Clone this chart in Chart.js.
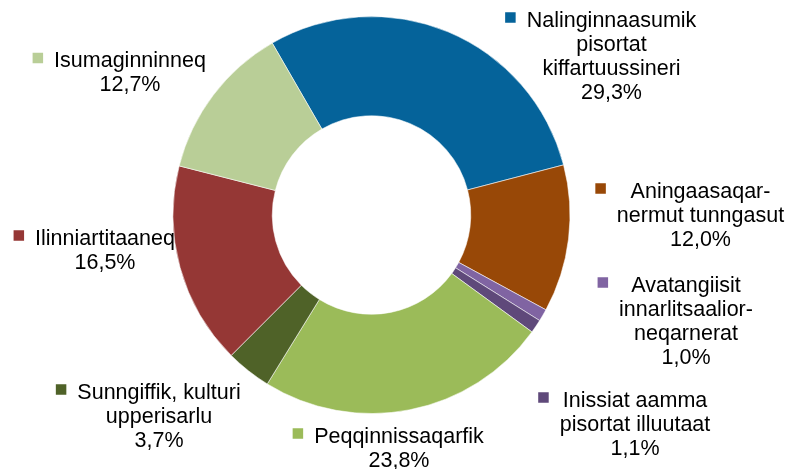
<!DOCTYPE html>
<html>
<head>
<meta charset="utf-8">
<script src="https://cdn.jsdelivr.net/npm/chart.js@4/dist/chart.umd.min.js"></script>
<style>
  html, body { margin: 0; padding: 0; background: #ffffff; }
  #wrap { width: 793px; height: 469px; }
</style>
</head>
<body>
<div id="wrap"><canvas id="c" width="793" height="469"></canvas></div>
<script>
// ---- data ----
const categories = [
  "Nalinginnaasumik pisortat kiffartuussineri",
  "Aningaasaqarnermut tunngasut",
  "Avatangiisit innarlitsaaliorneqarnerat",
  "Inissiat aamma pisortat illuutaat",
  "Peqqinnissaqarfik",
  "Sunngiffik, kulturi upperisarlu",
  "Ilinniartitaaneq",
  "Isumaginninneq"
];
const shares = [29.3, 12.0, 1.0, 1.1, 23.8, 3.7, 16.5, 12.7];
// label text lines as wrapped in the original (percentage line is added from shares)
const labelLines = [
  ["Nalinginnaasumik", "pisortat", "kiffartuussineri"],
  ["Aningaasaqar-", "nermut tunngasut"],
  ["Avatangiisit", "innarlitsaalior-", "neqarnerat"],
  ["Inissiat aamma", "pisortat illuutaat"],
  ["Peqqinnissaqarfik"],
  ["Sunngiffik, kulturi", "upperisarlu"],
  ["Ilinniartitaaneq"],
  ["Isumaginninneq"]
];

// ---- style / layout ----
const sliceColors = ["#05639A", "#984807", "#8064A2", "#5F497A", "#9BBB59", "#4F6228", "#953735", "#B9CE97"];
// label anchors: [center x of text block, baseline of first line]
const labelAnchors = [
  [611.5, 26.5], [700.5, 197.5], [686, 291.5], [635, 406.5],
  [399, 442.5], [159, 398.5], [105, 244.5], [130, 67]
];
const FONT_SIZE = 21.5;
const LINE_H = 24.3;

const labelPlugin = {
  id: 'outsideLabels',
  afterDatasetsDraw(chart) {
    const ctx = chart.ctx;
    const meta = chart.getDatasetMeta(0);
    ctx.save();
    ctx.font = FONT_SIZE + 'px "Liberation Sans", Arial, sans-serif';
    ctx.fillStyle = '#000000';
    ctx.textBaseline = 'alphabetic';
    ctx.textAlign = 'center';
    meta.data.forEach((arc, i) => {
      const lines = labelLines[i].concat([shares[i].toFixed(1).replace('.', ',') + '%']);
      const [cx, by] = labelAnchors[i];
      let maxW = 0;
      lines.forEach(l => { maxW = Math.max(maxW, ctx.measureText(l).width); });
      lines.forEach((l, k) => ctx.fillText(l, cx, by + k * LINE_H));
      // legend key square
      const sq = 10.5;
      const sx = cx - maxW / 2 - 11 - sq;
      const sy = by - 9 - sq / 2;
      ctx.fillStyle = sliceColors[i];
      ctx.fillRect(sx, sy, sq, sq);
      ctx.fillStyle = '#000000';
    });
    ctx.restore();
  }
};

new Chart(document.getElementById('c'), {
  type: 'doughnut',
  data: {
    labels: categories,
    datasets: [{
      data: shares,
      backgroundColor: sliceColors,
      borderColor: 'rgba(255,255,255,0.55)',
      borderWidth: 1
    }]
  },
  options: {
    responsive: false,
    animation: false,
    rotation: -30,
    cutout: '50%',
    layout: { padding: { top: 16, bottom: 55, left: 0, right: 50 } },
    plugins: {
      legend: { display: false },
      tooltip: { enabled: false }
    }
  },
  plugins: [labelPlugin]
});
</script>
</body>
</html>
